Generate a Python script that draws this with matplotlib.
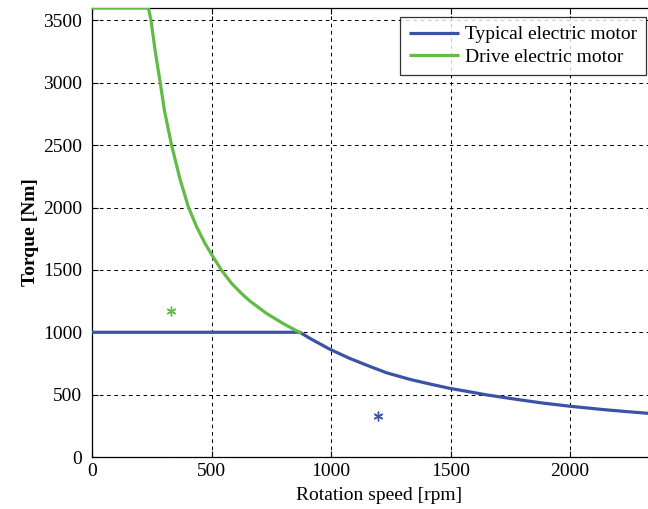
import matplotlib
matplotlib.use("Agg")
import matplotlib.pyplot as plt

# Data
typical_rpm = [0, 870, 912, 996, 1079, 1163, 1233, 1331, 1414, 1498, 1582, 1651,
               1791, 1888, 2000, 2140, 2237, 2321, 2400]
typical_torque = [1000, 1000, 951, 863, 790, 726, 675, 622, 585, 550, 522, 498,
                  458, 432, 407, 380, 364, 351, 340]

drive_rpm = [0, 236, 247, 264, 285, 303, 320, 333, 368, 403, 438, 473,
             508, 543, 584, 626, 661, 731, 800, 877]
drive_torque = [3600, 3600, 3500, 3261, 3007, 2780, 2620, 2500, 2230, 2006, 1845, 1712,
                1600, 1495, 1392, 1310, 1250, 1150, 1070, 990]

typical_point = (1198, 325)
drive_point = (331, 1167)

x_ticks = [0, 500, 1000, 1500, 2000]
y_ticks = [0, 500, 1000, 1500, 2000, 2500, 3000, 3500]

blue = "#3A53A4"
green = "#62BB46"

plt.rcParams["font.family"] = ["Liberation Serif", "DejaVu Serif"]
FS = 14

fig = plt.figure(figsize=(6.48, 5.09), dpi=100)
ax = fig.add_axes([92 / 648, 52 / 509, 573.6 / 648, 449 / 509])

ax.plot(typical_rpm, typical_torque, color=blue, lw=2.3, label="Typical electric motor",
        solid_capstyle="butt", zorder=3)
ax.plot(drive_rpm, drive_torque, color=green, lw=2.3, label="Drive electric motor",
        solid_capstyle="butt", zorder=3)
ax.plot([typical_point[0]], [typical_point[1]], marker=(6, 2, 0), ms=7, mew=1,
        color=blue, ls="none", zorder=4)
ax.plot([drive_point[0]], [drive_point[1]], marker=(6, 2, 0), ms=7, mew=1,
        color=green, ls="none", zorder=4)

ax.set_xlim(0, 2400)
ax.set_ylim(0, 3600)
ax.set_xticks(x_ticks)
ax.set_yticks(y_ticks)
ax.tick_params(direction="in", top=True, right=True, length=4, width=0.8,
               labelsize=FS, colors="black")
ax.tick_params(axis="y", pad=7)
ax.tick_params(axis="x", pad=4)
ax.grid(True, color="black", linestyle=(0, (3.5, 3.5)), linewidth=0.75)
for s in ax.spines.values():
    s.set_linewidth(0.9)

ax.set_xlabel("Rotation speed [rpm]", fontsize=FS, labelpad=5.5)
ax.set_ylabel("Torque [Nm]", fontsize=FS, fontweight="bold", labelpad=3)

leg = ax.legend(loc="upper right", bbox_to_anchor=(646 / 648, 1 - 17 / 509),
                bbox_transform=fig.transFigure, fontsize=FS, frameon=True,
                fancybox=False, borderpad=0.45, handlelength=2.6,
                handletextpad=0.3, labelspacing=0.25, borderaxespad=0)
leg.get_frame().set_edgecolor("black")
leg.get_frame().set_linewidth(0.9)

fig.savefig("out.png", dpi=100)
